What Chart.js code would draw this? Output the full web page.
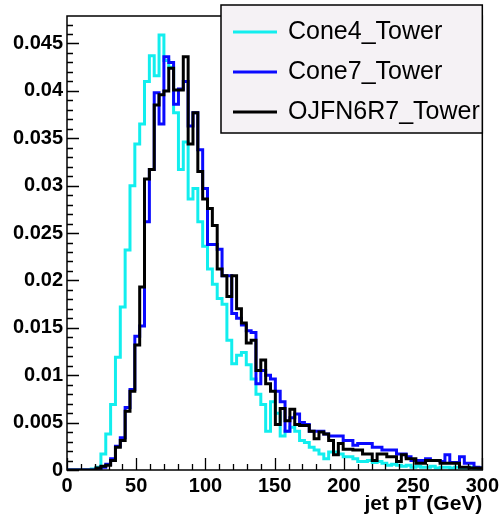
<!DOCTYPE html>
<html>
<head>
<meta charset="utf-8">
<script src="https://cdn.jsdelivr.net/npm/chart.js@4.4.1/dist/chart.umd.min.js"></script>
<style>
  html, body { margin: 0; padding: 0; background: #ffffff; }
  canvas { display: block; }
</style>
</head>
<body>
<canvas id="jetChart" width="503" height="521"></canvas>
<script>
// histogram bins start at 0, each 3.5 GeV wide
const binWidth = 3.5;

const seriesNames = ["Cone4_Tower", "Cone7_Tower", "OJFN6R7_Tower"];

const cone4 = [
  0, 0, 0, 0, 0,
  0.0001, 0.0003, 0.0017, 0.0038, 0.0069,
  0.0119, 0.0172, 0.0232, 0.0300, 0.0344,
  0.0365, 0.0410, 0.0437, 0.0416, 0.0459,
  0.0432, 0.0425, 0.0377, 0.0317, 0.0346,
  0.0286, 0.0297, 0.0262, 0.0236, 0.0212,
  0.0196, 0.0181, 0.0175, 0.0137, 0.0112,
  0.0121, 0.0124, 0.0111, 0.0096, 0.0080,
  0.0069, 0.0041, 0.0072, 0.0060, 0.0036,
  0.0041, 0.0045, 0.0041, 0.0031, 0.0029,
  0.0024, 0.0021, 0.0017, 0.0012, 0.0019,
  0.0019, 0.0017, 0.0014, 0.0014, 0.0012,
  0.0009, 0.0009, 0.0010, 0.0008, 0.0009,
  0.0007, 0.0005, 0.0006, 0.0005, 0.0004,
  0.0005, 0.0003, 0.0004, 0.0003, 0.0003,
  0.0004, 0.0002, 0.0003, 0.0003, 0.0002,
  0.0003, 0.0002, 0.0002, 0.0003, 0.0001,
  0.0002
];

const cone7 = [
  0, 0, 0, 0, 0,
  0, 0.0001, 0.0003, 0.0006, 0.0012,
  0.0025, 0.0034, 0.0066, 0.0085, 0.0141,
  0.0152, 0.0262, 0.0317, 0.0398, 0.0365,
  0.0436, 0.0430, 0.0386, 0.0402, 0.0410,
  0.0363, 0.0377, 0.0338, 0.0297, 0.0238,
  0.0238, 0.0233, 0.0205, 0.0205, 0.0165,
  0.0160, 0.0153, 0.0147, 0.0145, 0.0091,
  0.0105, 0.0100, 0.0096, 0.0083, 0.0072,
  0.0041, 0.0055, 0.0059, 0.0050, 0.0048,
  0.0041, 0.0041, 0.0041, 0.0038, 0.0036,
  0.0036, 0.0036, 0.0031, 0.0031, 0.0026,
  0.0028, 0.0028, 0.0028, 0.0024, 0.0024,
  0.0021, 0.0021, 0.0021, 0.0017, 0.0017,
  0.0014, 0.0010, 0.0010, 0.0010, 0.0012,
  0.0010, 0.0010, 0.0009, 0.0016, 0.0008,
  0.0008, 0.0014, 0.0007, 0.0007, 0.0003,
  0.0002
];

const ojfn6r7 = [
  0, 0, 0, 0, 0,
  0, 0.0002, 0.0004, 0.0005, 0.0010,
  0.0024, 0.0031, 0.0062, 0.0083, 0.0132,
  0.0193, 0.0307, 0.0317, 0.0385, 0.0396,
  0.0400, 0.0424, 0.0401, 0.0401, 0.0436,
  0.0344, 0.0377, 0.0315, 0.0286, 0.0276,
  0.0258, 0.0212, 0.0205, 0.0183, 0.0205,
  0.0170, 0.0155, 0.0134, 0.0137, 0.0105,
  0.0116, 0.0091, 0.0083, 0.0048, 0.0065,
  0.0052, 0.0064, 0.0048, 0.0047, 0.0047,
  0.0041, 0.0033, 0.0040, 0.0038, 0.0031,
  0.0016, 0.0028, 0.0022, 0.0022, 0.0021,
  0.0021, 0.0017, 0.0017, 0.0010, 0.0017,
  0.0017, 0.0014, 0.0014, 0.0009, 0.0016,
  0.0012, 0.0012, 0.0007, 0.0007, 0.0010,
  0.0010, 0.0010, 0.0007, 0.0007, 0.0007,
  0.0007, 0.0003, 0.0003, 0.0002, 0.0002,
  0.0002
];

const xTicks = [0, 50, 100, 150, 200, 250, 300];
const yTicks = [0, 0.005, 0.01, 0.015, 0.02, 0.025, 0.03, 0.035, 0.04, 0.045];
const xTitle = "jet pT (GeV)";

const colors = ["#12eeee", "#0a0aff", "#000000"];
const FONT = "'Liberation Sans', Arial, Helvetica, sans-serif";

// left edge of every bin + closing point at the right edge of the last bin
function histPoints(values) {
  const pts = values.map((v, i) => ({ x: i * binWidth, y: v }));
  pts.push({ x: values.length * binWidth, y: values[values.length - 1] });
  return pts;
}

const allSeries = [cone4, cone7, ojfn6r7];

// ROOT-style frame, inward ticks, axis title and legend
const rootFrame = {
  id: "rootFrame",
  afterDraw(chart) {
    const ctx = chart.ctx;
    const xs = chart.scales.x;
    const ys = chart.scales.y;
    const a = chart.chartArea;

    ctx.save();
    ctx.strokeStyle = "#000";
    ctx.lineWidth = 1.5;
    ctx.strokeRect(a.left, a.top, a.right - a.left, a.bottom - a.top);

    ctx.lineWidth = 1.3;
    ctx.beginPath();
    for (let v = 0; v <= xs.max + 0.001; v += 10) {
      const px = Math.round(xs.getPixelForValue(v)) + 0.5;
      const len = (v % 50 === 0) ? 12 : 6;
      ctx.moveTo(px, a.bottom);
      ctx.lineTo(px, a.bottom - len);
    }
    for (let i = 0; i * 0.001 <= ys.max; i++) {
      const py = Math.round(ys.getPixelForValue(i * 0.001)) + 0.5;
      const len = (i % 5 === 0) ? 12 : 6;
      ctx.moveTo(a.left, py);
      ctx.lineTo(a.left + len, py);
    }
    ctx.stroke();

    // axis title
    ctx.fillStyle = "#000";
    ctx.font = "bold 21px " + FONT;
    ctx.textAlign = "right";
    ctx.textBaseline = "middle";
    ctx.fillText(xTitle, a.right, 504);

    // legend box
    const lx = 221, ly = 5, lw = a.right - 221, lh = 128;
    ctx.fillStyle = "#f5f2f5";
    ctx.fillRect(lx, ly, lw, lh);
    ctx.lineWidth = 1.5;
    ctx.strokeStyle = "#000";
    ctx.strokeRect(lx, ly, lw, lh);

    ctx.save();
    ctx.beginPath();
    ctx.rect(lx, ly, lw, lh);
    ctx.clip();
    ctx.font = "25px " + FONT;
    ctx.textAlign = "left";
    ctx.textBaseline = "middle";
    seriesNames.forEach((name, i) => {
      const yy = 32 + i * 40;
      ctx.strokeStyle = colors[i];
      ctx.lineWidth = 3;
      ctx.beginPath();
      ctx.moveTo(233, yy);
      ctx.lineTo(277, yy);
      ctx.stroke();
      ctx.fillStyle = "#000";
      ctx.fillText(name, 288, yy);
    });
    ctx.restore();

    ctx.restore();
  }
};

new Chart(document.getElementById("jetChart"), {
  type: "line",
  data: {
    datasets: seriesNames.map((name, i) => ({
      label: name,
      data: histPoints(allSeries[i]),
      borderColor: colors[i],
      borderWidth: 3,
      stepped: "before",
      pointRadius: 0,
      fill: false,
      order: 3 - i
    }))
  },
  options: {
    responsive: false,
    animation: false,
    layout: { padding: { top: 6, right: 18, left: 0, bottom: 0 } },
    plugins: {
      legend: { display: false },
      tooltip: { enabled: false }
    },
    scales: {
      x: {
        type: "linear",
        min: 0,
        max: 300,
        afterBuildTicks: s => { s.ticks = xTicks.map(v => ({ value: v })); },
        afterFit: s => { s.height = 51; },
        grid: { display: false, drawTicks: false },
        border: { display: false },
        ticks: {
          color: "#000",
          font: { family: FONT, size: 20, weight: "bold" },
          padding: 4,
          maxRotation: 0,
          autoSkip: false
        }
      },
      y: {
        type: "linear",
        min: 0,
        max: 0.0479,
        afterBuildTicks: s => { s.ticks = yTicks.map(v => ({ value: v })); },
        afterFit: s => { s.width = 67; },
        grid: { display: false, drawTicks: false },
        border: { display: false },
        ticks: {
          color: "#000",
          font: { family: FONT, size: 20, weight: "bold" },
          padding: 4,
          callback: v => String(+Number(v).toFixed(3))
        }
      }
    }
  },
  plugins: [rootFrame]
});
</script>
</body>
</html>
